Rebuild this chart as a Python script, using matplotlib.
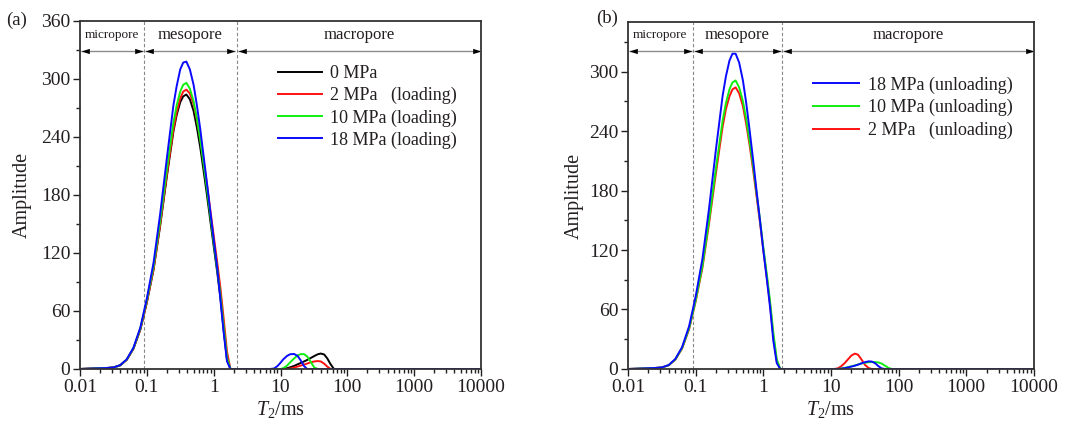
import numpy as np
import matplotlib
matplotlib.use("Agg")
import matplotlib.pyplot as plt
from matplotlib.ticker import FixedLocator, NullFormatter, MultipleLocator

plt.rcParams['font.family'] = ['Liberation Serif', 'DejaVu Serif']
plt.rcParams['mathtext.fontset'] = 'custom'
plt.rcParams['mathtext.rm'] = 'Liberation Serif'
plt.rcParams['mathtext.it'] = 'Liberation Serif:italic'

# T2 grid (ms) shared by every curve
t2 = [0.01, 0.025, 0.032, 0.04, 0.05, 0.063, 0.08, 0.1, 0.126, 0.158, 0.2, 0.25, 0.28, 0.316,
      0.35, 0.39, 0.44, 0.5, 0.56, 0.63, 0.71, 0.8, 0.9, 1.0, 1.13, 1.26, 1.41, 1.58, 1.78, 2.0,
      7.0, 8.0, 9.0, 10, 11, 12.5, 14, 16, 18, 20, 22.5, 25, 28, 32, 36, 40, 45, 50, 56, 63,
      71, 80, 90, 10000]

# (a) loading
a_0mpa = [0, 1, 1.6, 3.8, 9.5, 21, 41, 69, 103, 148, 200, 246, 263, 276,
          282, 284, 279, 267, 250, 229, 204, 178, 151, 127, 100, 74, 40, 10, 0, 0,
          0, 0, 0, 0, 0, 0.8, 1.8, 3.2, 4.8, 6.2, 7.8, 9.3, 11.2, 13.4, 15.2, 16, 15, 11, 5, 0,
          0, 0, 0, 0]
a_2mpa = [0, 1, 1.6, 3.8, 9.5, 21, 41, 69, 103, 149, 202, 248, 266, 280,
          287, 289, 285, 274, 258, 238, 214, 189, 162, 138, 110, 84, 52, 18, 0, 0,
          0, 0, 0, 0, 0, 0, 0.5, 1.5, 2.5, 3.5, 4.5, 5.6, 6.8, 7.8, 8.2, 7.8, 5.5, 2.5, 0, 0,
          0, 0, 0, 0]
a_10mpa = [0, 1, 1.6, 3.9, 9.7, 21.5, 42, 71, 106, 153, 207, 255, 273, 287,
           294, 296, 290, 277, 259, 237, 211, 184, 156, 131, 103, 77, 44, 12, 0, 0,
           0, 0, 0, 0, 0.8, 3.5, 7, 11, 14, 15.4, 15.3, 13, 8, 1.5, 0, 0, 0, 0, 0, 0,
           0, 0, 0, 0]
a_18mpa = [0, 1, 1.7, 4, 10, 22, 43, 73, 110, 160, 219, 273, 293, 310,
           317, 318, 310, 294, 273, 248, 219, 190, 160, 134, 104, 72, 38, 8, 0, 0,
           0, 0.5, 3, 6.5, 10, 13.5, 15.3, 15.5, 13.5, 9, 3, 0, 0, 0, 0, 0, 0, 0, 0, 0,
           0, 0, 0, 0]

# (b) unloading
b_18mpa = [0, 1, 1.7, 4, 10, 22, 43, 73, 111, 162, 222, 275, 295, 311,
           318, 318, 309, 291, 268, 240, 210, 178, 148, 120, 90, 62, 28, 6, 0, 0,
           0, 0, 0, 0, 0, 0, 0.3, 0.9, 1.6, 2.4, 3.3, 4.3, 5.6, 6.9, 7.7, 7.5, 5.8, 3, 0.6, 0,
           0, 0, 0, 0]
b_10mpa = [0, 1, 1.6, 3.8, 9.5, 21, 41, 69, 104, 150, 203, 250, 268, 282,
           289, 291, 284, 270, 252, 229, 204, 176, 149, 123, 95, 68, 36, 10, 0, 0,
           0, 0, 0, 0, 0, 0, 0.4, 1.1, 1.9, 2.7, 3.6, 4.5, 5.5, 6.3, 6.8, 7.0, 7.0, 6.6, 5.5, 3.3,
           1, 0, 0, 0]
b_2mpa = [0, 1, 1.6, 3.7, 9.3, 20.5, 40, 68, 102, 147, 198, 244, 262, 275,
          282, 284, 278, 265, 247, 225, 200, 173, 146, 120, 92, 65, 32, 8, 0, 0,
          0, 0, 0, 0, 0, 0.5, 2.5, 6, 10, 13.5, 15.5, 14.5, 10, 4, 1, 0, 0, 0, 0, 0,
          0, 0, 0, 0]

a_labels = ["0 MPa", "2 MPa   (loading)", "10 MPa (loading)", "18 MPa (loading)"]
b_labels = ["18 MPa (unloading)", "10 MPa (unloading)", "2 MPa   (unloading)"]

ink = '#231f20'
c_black, c_red, c_green, c_blue = '#000000', '#ff1010', '#10ee10', '#0a0aff'

fig = plt.figure(figsize=(10.74, 4.25), dpi=100)
ax1 = fig.add_axes([0.0745, 0.1318, 0.3734, 0.8188])
ax2 = fig.add_axes([0.5847, 0.1318, 0.3780, 0.8165])

# arrowhead markers with the tip at the data point
head_l = [(0, 0), (2.2, -0.7), (2.2, 0.7), (0, 0)]
head_r = [(0, 0), (-2.2, -0.7), (-2.2, 0.7), (0, 0)]


def region_arrow(ax, x0, x1, y):
    ax.plot([x0, x1], [y, y], color='#8c8c8c', lw=1.0, solid_capstyle='butt', zorder=3)
    ax.plot([x0], [y], marker=head_l, ms=12, color='black', mew=0, zorder=4)
    ax.plot([x1], [y], marker=head_r, ms=12, color='black', mew=0, zorder=4)


def style_axes(ax, ytop, ymajor_max, x_line2, arrow_y, text_y, label_y_coord):
    ax.set_xscale('log')
    ax.set_xlim(0.01, 10000)
    ax.set_ylim(0, ytop)
    ax.yaxis.set_major_locator(FixedLocator(np.arange(0, ymajor_max + 1, 60)))
    ax.yaxis.set_minor_locator(MultipleLocator(30))
    ax.xaxis.set_major_locator(FixedLocator([0.01, 0.1, 1, 10, 100, 1000, 10000]))
    ax.set_xticklabels(["0.01", "0.1", "1", "10", "100", "1000", "10000"])
    minors = [m * 10.0 ** e for e in range(-2, 4) for m in range(2, 10)]
    ax.xaxis.set_minor_locator(FixedLocator(minors))
    ax.xaxis.set_minor_formatter(NullFormatter())
    ax.tick_params(which='both', direction='out', top=False, right=False,
                   colors=ink, labelsize=14, width=1.0, pad=2)
    ax.tick_params(which='major', length=5)
    ax.tick_params(which='minor', length=3)
    for s in ax.spines.values():
        s.set_linewidth(1.3)
        s.set_color('#333333')
    ax.set_ylabel("Amplitude", fontsize=14.5, color=ink)
    ax.set_xlabel(r"$T_2$/ms", fontsize=14.5, color=ink)
    ax.yaxis.set_label_coords(label_y_coord, 0.5)
    ax.xaxis.set_label_coords(0.5, -0.087)

    for xv in (0.091, x_line2):
        ax.axvline(xv, color='#888888', lw=0.8, ls=(0, (3, 2)), zorder=1)

    region_arrow(ax, 0.0104, 0.088, arrow_y)
    region_arrow(ax, 0.094, x_line2 * 0.955, arrow_y)
    region_arrow(ax, x_line2 * 1.04, 10000, arrow_y)
    ax.text(np.sqrt(0.01 * 0.091), text_y, "micropore", ha='center', va='center',
            fontsize=9.5, color=ink)
    ax.text(np.sqrt(0.091 * x_line2), text_y, "mesopore", ha='center', va='center',
            fontsize=12, color=ink)
    ax.text(np.sqrt(x_line2 * 10000), text_y, "macropore", ha='center', va='center',
            fontsize=12, color=ink)


# panel (a)
la = []
for y, c, lab in zip([a_0mpa, a_2mpa, a_10mpa, a_18mpa], [c_black, c_red, c_green, c_blue], a_labels):
    la += ax1.plot(t2, y, color=c, lw=1.4, label=lab, zorder=2)
style_axes(ax1, 360, 360, 2.2, 329, 345, -0.12)
ax1.legend(handles=la, loc='upper left', bbox_to_anchor=(0.494, 0.873), frameon=False,
           fontsize=13, handlelength=2.45, handletextpad=0.45, labelspacing=0.27,
           borderpad=0, borderaxespad=0, labelcolor=ink)

# panel (b)
lb = {}
for y, c, lab in zip([b_2mpa, b_10mpa, b_18mpa], [c_red, c_green, c_blue], b_labels[::-1]):
    lb[lab] = ax2.plot(t2, y, color=c, lw=1.4, label=lab, zorder=2)[0]
style_axes(ax2, 350, 300, 1.9, 321, 337, -0.108)
ax2.legend(handles=[lb[k] for k in b_labels], loc='upper left', bbox_to_anchor=(0.456, 0.843),
           frameon=False, fontsize=13, handlelength=2.55, handletextpad=0.5, labelspacing=0.3,
           borderpad=0, borderaxespad=0, labelcolor=ink)

fig.text(17 / 1074, 1 - 20 / 425, "(a)", ha='center', va='center', fontsize=13.5, color=ink)
fig.text(607 / 1074, 1 - 18 / 425, "(b)", ha='center', va='center', fontsize=13.5, color=ink)

fig.savefig("out.png", dpi=100)
